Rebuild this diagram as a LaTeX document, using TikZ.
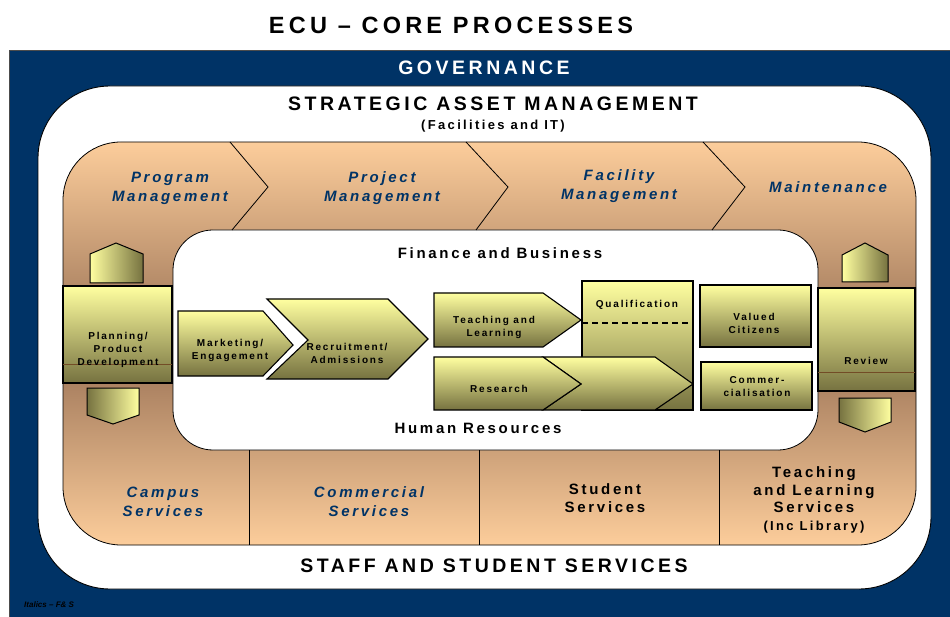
\documentclass[tikz,border=0pt]{standalone}
\usepackage{fontspec}
\setmainfont{Liberation Sans}[LetterSpace=18]
\usepackage{tikz}

\definecolor{govblue}{RGB}{0,51,102}
\definecolor{peach}{RGB}{252,205,155}
\definecolor{tanbrown}{RGB}{152,112,84}
\definecolor{ylight}{RGB}{255,255,160}
\definecolor{yolive}{RGB}{118,114,64}

\begin{document}
\begin{tikzpicture}[x=1pt, y=-1pt,
    ybox/.style={top color=ylight, bottom color=yolive, draw=black, line width=1.1pt},
    yhexa/.style={left color=ylight, right color=yolive, draw=black, line width=1pt},
    yhexb/.style={left color=yolive, right color=ylight, draw=black, line width=1pt},
    bigcaps/.style={inner sep=0, font=\bfseries\fontsize{19.5}{22}\selectfont},
    fslabel/.style={inner sep=0, align=center, text=govblue, font=\bfseries\itshape\fontsize{15}{19}\selectfont},
    sslabel/.style={inner sep=0, align=center, font=\bfseries\fontsize{15}{18}\selectfont},
    smalltxt/.style={inner sep=0, align=center, font=\bfseries\fontsize{10}{13}\selectfont}]

    \useasboundingbox (0,0) rectangle (950,617);
    \clip (0,0) rectangle (950,617);

    % background rings
    \fill[govblue] (9,51) rectangle (960,630);
    \draw[gray!60!black, line width=1pt] (9,630) -- (9,51) -- (960,51);
    \draw[fill=white, draw=black, line width=0.9pt, rounded corners=72pt] (38,86) rectangle (931,589);
    \shade[top color=peach, bottom color=peach, middle color=tanbrown, draw=black, line width=0.8pt, rounded corners=58pt] (63,142) rectangle (916,545);
    \draw[fill=white, draw=black, line width=0.8pt, rounded corners=40pt] (173,230) rectangle (818,450);

    \draw[line width=0.8pt] (230,142) -- (268,187) -- (232,230);
    \draw[line width=0.8pt] (466,142) -- (508,187) -- (476,230);
    \draw[line width=0.8pt] (703,142) -- (745,187) -- (712,230);
    \draw[line width=0.8pt] (249,450) -- (249,545);
    \draw[line width=0.8pt] (479,450) -- (479,545);
    \draw[line width=0.8pt] (719,450) -- (719,545);

    \node[inner sep=0, font=\bfseries\fontsize{23.5}{26}\selectfont] at (451,25) (title) {ECU -- CORE PROCESSES};
    \node[bigcaps, text=white] at (484,68) (gov) {GOVERNANCE};
    \node[bigcaps] at (493,104) (sam) {STRATEGIC ASSET MANAGEMENT};
    \node[inner sep=0, font=\bfseries\fontsize{13}{15}\selectfont] at (493,126) (samsub) {(Facilities and IT)};
    \node[bigcaps] at (494,566) (staff) {STAFF AND STUDENT SERVICES};
    \node[inner sep=0, anchor=west, font=\bfseries\itshape\fontsize{8}{10}\selectfont\addfontfeature{LetterSpace=0}] at (24,605) (note) {Italics -- F\& S};

    \node[fslabel] at (170,188) (prog) {Program\\Management};
    \node[fslabel] at (382,188) (proj) {Project\\Management};
    \node[fslabel] at (619,186) (fac) {Facility\\Management};
    \node[fslabel] at (828,187) (maint) {Maintenance};

    \node[fslabel] at (163,502) (campus) {Campus\\Services};
    \node[fslabel] at (369,502) (comm) {Commercial\\Services};
    \node[sslabel] at (605,498) (stud) {Student\\Services};
    \node[sslabel, font=\bfseries\fontsize{15}{17.5}\selectfont] at (814,500) (tls) {Teaching\\and Learning\\Services\\{\fontsize{13}{15}\selectfont(Inc Library)}};

    \node[sslabel] at (500,253) (fin) {Finance and Business};
    \node[sslabel] at (478,428) (hr) {Human Resources};

    % left column
    \shade[yhexa] (90,283) -- (90,254) -- (116,243) -- (143,254) -- (143,283) -- cycle;
    \shade[ybox] (63,286) rectangle (172,383);
    \draw[brown!60!black, line width=0.5pt] (63,364) -- (172,364);
    \shade[yhexb] (87,388) -- (139,388) -- (139,415) -- (113,424) -- (87,415) -- cycle;
    \node[smalltxt] at (118,350) (plan) {Planning/\\Product\\Development};

    % right column
    \shade[yhexa] (842,282) -- (842,255) -- (865,243) -- (888,255) -- (888,282) -- cycle;
    \shade[ybox] (818,288) rectangle (915,391);
    \draw[brown!60!black, line width=0.5pt] (818,372) -- (915,372);
    \shade[yhexb] (839,398) -- (891,398) -- (891,422) -- (865,432) -- (839,422) -- cycle;
    \node[smalltxt] at (866,361) (rev) {Review};

    % process arrows
    \shade[ybox] (178,311) -- (263,311) -- (293,345) -- (263,376) -- (178,376) -- cycle;
    \node[smalltxt] at (230,350) (mkt) {Marketing/\\Engagement};
    \shade[ybox] (267,299) -- (388,299) -- (428,339) -- (388,379) -- (267,379) -- (308,340) -- cycle;
    \node[smalltxt] at (347,353) (recr) {Recruitment/\\Admissions};

    \shade[ybox] (582,281) rectangle (693,410);
    \draw[dashed, dash pattern=on 6pt off 4pt, line width=1.6pt] (582,323) -- (693,323);
    \node[smalltxt] at (637,305) (qual) {Qualification};

    \shade[ybox] (543,357) -- (655,357) -- (693,384) -- (655,410) -- (543,410) -- (581,384) -- cycle;
    \shade[ybox] (434,357) -- (543,357) -- (581,384) -- (543,410) -- (434,410) -- cycle;
    \node[smalltxt] at (499,389) (res) {Research};

    \shade[ybox] (434,293) -- (543,293) -- (581,320) -- (543,347) -- (434,347) -- cycle;
    \node[smalltxt] at (494,327) (tl) {Teaching and\\Learning};

    \shade[ybox] (700,285) rectangle (811,347);
    \node[smalltxt] at (754,323) (val) {Valued\\Citizens};
    \shade[ybox] (701,362) rectangle (812,410);
    \node[smalltxt] at (757,387) (cml) {Commer-\\cialisation};
\end{tikzpicture}
\end{document}
